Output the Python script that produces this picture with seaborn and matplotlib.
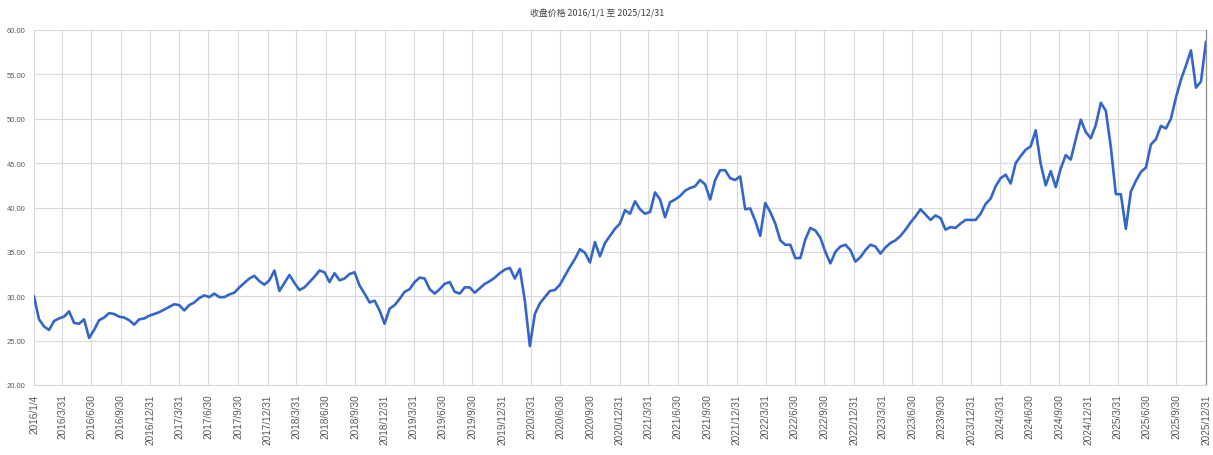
import numpy as np
import pandas as pd
import matplotlib
matplotlib.use("Agg")
import matplotlib.pyplot as plt
import seaborn as sns

# ---------------- data ----------------
title_text = "收盘价格 2016/1/1 至 2025/12/31"
start_date = "2016-01-04"
end_date = "2025-12-31"

prices = [
    30.0, 27.4, 26.6, 26.2, 27.2, 27.5, 27.7, 28.3, 27.0, 26.9,
    27.4, 25.3, 26.2, 27.3, 27.6, 28.1, 28.0, 27.7, 27.6, 27.3,
    26.8, 27.4, 27.5, 27.8, 28.0, 28.2, 28.5, 28.8, 29.1, 29.0,
    28.4, 29.0, 29.3, 29.8, 30.1, 29.9, 30.3, 29.9, 29.9, 30.2,
    30.4, 31.0, 31.5, 32.0, 32.3, 31.7, 31.3, 31.8, 32.9, 30.6,
    31.5, 32.4, 31.5, 30.7, 31.0, 31.6, 32.2, 32.9, 32.7, 31.6,
    32.6, 31.8, 32.0, 32.5, 32.7, 31.2, 30.3, 29.3, 29.5, 28.4,
    26.9, 28.6, 29.0, 29.7, 30.5, 30.8, 31.6, 32.1, 32.0, 30.8,
    30.3, 30.8, 31.4, 31.6, 30.5, 30.3, 31.0, 31.0, 30.4, 30.9,
    31.4, 31.7, 32.1, 32.6, 33.0, 33.2, 32.0, 33.1, 29.5, 24.4,
    28.0, 29.2, 29.9, 30.6, 30.7, 31.3, 32.3, 33.3, 34.2, 35.3,
    34.9, 33.8, 36.1, 34.5, 36.0, 36.8, 37.6, 38.2, 39.7, 39.3,
    40.7, 39.8, 39.3, 39.5, 41.7, 40.9, 38.9, 40.6, 40.9, 41.3,
    41.9, 42.2, 42.4, 43.1, 42.6, 40.9, 43.1, 44.2, 44.2, 43.3,
    43.1, 43.5, 39.8, 39.9, 38.5, 36.8, 40.5, 39.5, 38.2, 36.3,
    35.8, 35.8, 34.3, 34.3, 36.4, 37.7, 37.4, 36.6, 35.0, 33.7,
    35.0, 35.6, 35.8, 35.2, 33.9, 34.4, 35.2, 35.8, 35.6, 34.8,
    35.5, 36.0, 36.3, 36.8, 37.5, 38.3, 39.0, 39.8, 39.2, 38.6,
    39.1, 38.8, 37.5, 37.8, 37.7, 38.2, 38.6, 38.6, 38.6, 39.3,
    40.4, 41.0, 42.4, 43.3, 43.7, 42.7, 45.0, 45.8, 46.5, 46.9,
    48.7, 44.9, 42.5, 44.1, 42.3, 44.4, 45.9, 45.4, 47.7, 49.9,
    48.5, 47.8, 49.3, 51.8, 50.9, 46.8, 41.5, 41.5, 37.6, 41.8,
    43.0, 44.0, 44.5, 47.1, 47.7, 49.2, 48.9, 50.0, 52.4, 54.4,
    56.0, 57.7, 53.5, 54.2, 58.7,
]

tick_labels = [
    "2016/1/4", "2016/3/31", "2016/6/30", "2016/9/30", "2016/12/31",
    "2017/3/31", "2017/6/30", "2017/9/30", "2017/12/31",
    "2018/3/31", "2018/6/30", "2018/9/30", "2018/12/31",
    "2019/3/31", "2019/6/30", "2019/9/30", "2019/12/31",
    "2020/3/31", "2020/6/30", "2020/9/30", "2020/12/31",
    "2021/3/31", "2021/6/30", "2021/9/30", "2021/12/31",
    "2022/3/31", "2022/6/30", "2022/9/30", "2022/12/31",
    "2023/3/31", "2023/6/30", "2023/9/30", "2023/12/31",
    "2024/3/31", "2024/6/30", "2024/9/30", "2024/12/31",
    "2025/3/31", "2025/6/30", "2025/9/30", "2025/12/31",
]

y_ticks = [20, 25, 30, 35, 40, 45, 50, 55, 60]

# ---------------- build ----------------
dates = pd.date_range(start=start_date, end=end_date, periods=len(prices))
df = pd.DataFrame({"date": dates, "price": prices})

sns.set_style("white")
plt.rcParams["font.family"] = ["Liberation Sans", "Noto Sans CJK SC", "DejaVu Sans"]

fig = plt.figure(figsize=(12.13, 4.56), dpi=100)
ax = fig.add_axes([34 / 1213, 1 - 386 / 456, (1206 - 34) / 1213, (386 - 31) / 456])

grid_c = "#d9d9d9"
tick_pos = pd.to_datetime(tick_labels, format="%Y/%m/%d")
ax.set_xticks(tick_pos)
ax.set_xticklabels(tick_labels, rotation=90, fontsize=7.2, color="#595959")
ax.set_yticks(y_ticks)
ax.set_yticklabels([f"{v:.2f}" for v in y_ticks], fontsize=5.5, color="#595959")
ax.grid(True, color=grid_c, linewidth=0.8)
ax.set_axisbelow(True)

sns.lineplot(data=df, x="date", y="price", ax=ax, color="#3366C8",
             linewidth=1.9, zorder=3)

ax.set_xlim(tick_pos[0], tick_pos[-1])
ax.set_ylim(20, 60)
ax.set_xlabel("")
ax.set_ylabel("")
ax.tick_params(axis="x", length=4, color=grid_c, pad=2)
ax.tick_params(axis="y", length=0, pad=6)

for s in ["top", "left"]:
    ax.spines[s].set_visible(False)
ax.spines["bottom"].set_color(grid_c)
ax.spines["bottom"].set_linewidth(0.8)
ax.spines["right"].set_color("#8c8c8c")
ax.spines["right"].set_linewidth(0.9)

fig.text(597 / 1213, 1 - 14 / 456, title_text, ha="center", va="center",
         fontsize=6.4, color="#404040",
         family=["Noto Sans CJK SC", "DejaVu Sans"])

fig.savefig("out.png", dpi=100)
